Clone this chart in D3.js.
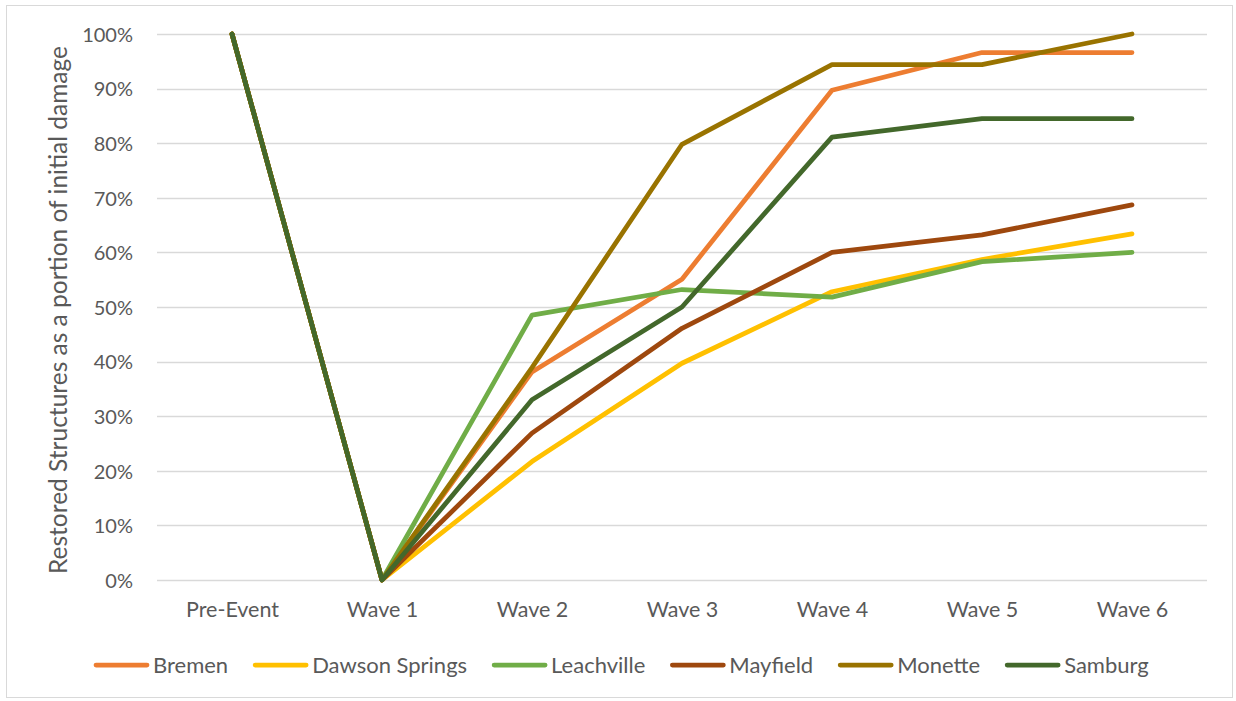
<!DOCTYPE html>
<html>
<head>
<meta charset="utf-8">
<script src="https://cdn.jsdelivr.net/npm/d3@7"></script>
<style>
  html, body { margin: 0; padding: 0; background: #fff; }
  svg { display: block; }
  text { font-family: Lato, "Open Sans", "DejaVu Sans", sans-serif; fill: #595959; }
</style>
</head>
<body>
<svg id="chart" width="1236" height="701"></svg>
<script>
// Recovery waves after the event
const categories = ["Pre-Event", "Wave 1", "Wave 2", "Wave 3", "Wave 4", "Wave 5", "Wave 6"];

// Share of damaged structures restored, per town (fraction of initial damage)
const bremen        = [1.00, 0, 0.381, 0.551, 0.897, 0.966, 0.966];
const dawsonSprings = [1.00, 0, 0.217, 0.397, 0.528, 0.587, 0.634];
const leachville    = [1.00, 0, 0.485, 0.532, 0.518, 0.583, 0.600];
const mayfield      = [1.00, 0, 0.269, 0.461, 0.600, 0.632, 0.687];
const monette       = [1.00, 0, 0.389, 0.798, 0.944, 0.944, 1.000];
const samburg       = [1.00, 0, 0.330, 0.500, 0.811, 0.845, 0.845];

const seriesNames  = ["Bremen", "Dawson Springs", "Leachville", "Mayfield", "Monette", "Samburg"];
const seriesValues = [bremen, dawsonSprings, leachville, mayfield, monette, samburg];
const seriesColors = ["#ED7D31", "#FFC000", "#70AD47", "#9E480E", "#997300", "#43682B"];

const yTicks = [0, 0.1, 0.2, 0.3, 0.4, 0.5, 0.6, 0.7, 0.8, 0.9, 1.0];
const yTitle = "Restored Structures as a portion of initial damage";

const svg = d3.select("#chart");

// outer frame
svg.append("rect")
  .attr("x", 6.5).attr("y", 5.5)
  .attr("width", 1226).attr("height", 692)
  .attr("fill", "#fff").attr("stroke", "#d9d9d9").attr("stroke-width", 1);

const plot = { left: 157, right: 1207, top: 34, bottom: 580 };

const x = d3.scalePoint()
  .domain(categories)
  .range([plot.left, plot.right])
  .padding(0.5);

const y = d3.scaleLinear()
  .domain([0, 1])
  .range([plot.bottom, plot.top]);

// horizontal gridlines
svg.append("g")
  .selectAll("line")
  .data(yTicks)
  .join("line")
  .attr("x1", plot.left).attr("x2", plot.right)
  .attr("y1", d => Math.round(y(d)) + 0.5)
  .attr("y2", d => Math.round(y(d)) + 0.5)
  .attr("stroke", "#d9d9d9")
  .attr("stroke-width", 1.3);

// y axis labels
const yAxis = d3.axisLeft(y)
  .tickValues(yTicks)
  .tickFormat(d3.format(".0%"))
  .tickSize(0)
  .tickPadding(0);
const gy = svg.append("g")
  .attr("transform", `translate(${plot.left - 24},0)`)
  .call(yAxis);
gy.select(".domain").remove();
gy.selectAll("text")
  .attr("font-size", 20)
  .attr("dy", "0.36em")
  .attr("fill", "#595959")
  .style("font-family", "Lato, 'Open Sans', sans-serif");

// x axis labels
const xAxis = d3.axisBottom(x).tickSize(0).tickPadding(0);
const gx = svg.append("g")
  .attr("transform", `translate(0,${plot.bottom})`)
  .call(xAxis);
gx.select(".domain").remove();
gx.selectAll("text")
  .attr("y", 37)
  .attr("dy", 0)
  .attr("font-size", 21.5)
  .attr("fill", "#595959")
  .style("font-family", "Lato, 'Open Sans', sans-serif");

// y axis title
svg.append("text")
  .attr("transform", `translate(67,${(plot.top + plot.bottom) / 2 + 3}) rotate(-90)`)
  .attr("text-anchor", "middle")
  .attr("font-size", 24.5)
  .text(yTitle);

// series lines
const line = d3.line()
  .x((d, i) => x(categories[i]))
  .y(d => y(d));

svg.append("g")
  .selectAll("path")
  .data(seriesValues)
  .join("path")
  .attr("d", d => line(d))
  .attr("fill", "none")
  .attr("stroke", (d, i) => seriesColors[i])
  .attr("stroke-width", 4.75)
  .attr("stroke-linejoin", "round")
  .attr("stroke-linecap", "round");

// legend
const legend = svg.append("g").attr("transform", "translate(96,665)");
let cursor = 0;
seriesNames.forEach((name, i) => {
  const item = legend.append("g").attr("transform", `translate(${cursor},0)`);
  item.append("line")
    .attr("x1", 0).attr("x2", 51)
    .attr("y1", 0).attr("y2", 0)
    .attr("stroke", seriesColors[i])
    .attr("stroke-width", 4.75)
    .attr("stroke-linecap", "round");
  const t = item.append("text")
    .attr("x", 57).attr("y", 7.5)
    .attr("font-size", 22)
    .text(name);
  cursor += 57 + t.node().getComputedTextLength() + 27;
});
</script>
</body>
</html>
